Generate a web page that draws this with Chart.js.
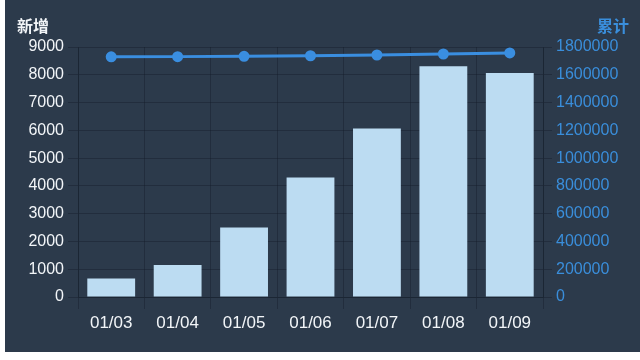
<!DOCTYPE html>
<html>
<head>
<meta charset="utf-8">
<script src="https://cdn.jsdelivr.net/npm/chart.js@4"></script>
<style>
  html, body { margin: 0; padding: 0; background: #ffffff; }
  #panel { position: absolute; left: 5px; top: 0; width: 635px; height: 352px; background: #2c3a4b; }
  #wrap { position: absolute; left: 0; top: 0; width: 635px; height: 352px; }
  .ttl { position: absolute; top: 13px; font: bold 16px "Noto Sans CJK SC", sans-serif; }
  #tl { left: 12px; color: #f2f5f8; }
  #tr { right: 11px; color: #3a8edb; }
</style>
</head>
<body>
<div id="panel">
  <div id="wrap"><canvas id="c" width="635" height="352"></canvas></div>
  <div class="ttl" id="tl">新增</div>
  <div class="ttl" id="tr">累计</div>
</div>
<script>
const labels = ['01/03', '01/04', '01/05', '01/06', '01/07', '01/08', '01/09'];
const newCases = [670, 1150, 2500, 4300, 6070, 8310, 8060];
const totalCases = [1729500, 1730700, 1733200, 1737000, 1742500, 1749500, 1757500];

const tickFont = { family: '"Liberation Sans", "Noto Sans", sans-serif', size: 16 };
const gridColor = 'rgba(20, 28, 40, 0.4)';

new Chart(document.getElementById('c'), {
    data: {
        labels: labels,
        datasets: [
            { type: 'line', label: '累计', data: totalCases, yAxisID: 'y1', borderColor: '#3a8ee0', backgroundColor: '#3a8ee0',
              borderWidth: 3, pointRadius: 4, pointHoverRadius: 4, tension: 0, order: 0 },
            { type: 'bar', label: '新增', data: newCases, yAxisID: 'y', backgroundColor: '#bcdcf2',
              categoryPercentage: 0.72, barPercentage: 1, order: 1 }
        ]
    },
    options: {
        responsive: false,
        animation: false,
        layout: { padding: { top: 47, right: 0, left: 0, bottom: 0 } },
        plugins: { legend: { display: false }, tooltip: { enabled: false } },
        scales: {
            x: {
                grid: { color: gridColor, tickLength: 12, offset: true },
                border: { color: gridColor },
                ticks: { color: '#f2f5f8', font: { family: tickFont.family, size: 17 }, padding: 4 },
                afterFit: s => { s.height = 55; }
            },
            y: {
                position: 'left', min: 0, max: 9000,
                ticks: { stepSize: 1000, color: '#f2f5f8', font: tickFont, padding: 4, callback: v => String(v) },
                grid: { color: gridColor, tickLength: 10 },
                border: { color: gridColor },
                afterFit: s => { s.width = 73; }
            },
            y1: {
                position: 'right', min: 0, max: 1800000,
                ticks: { stepSize: 200000, color: '#3a8edb', font: tickFont, padding: 4, callback: v => String(v) },
                grid: { drawOnChartArea: false, color: gridColor, tickLength: 9 },
                border: { color: gridColor },
                afterFit: s => { s.width = 97; }
            }
        }
    }
});
</script>
</body>
</html>
